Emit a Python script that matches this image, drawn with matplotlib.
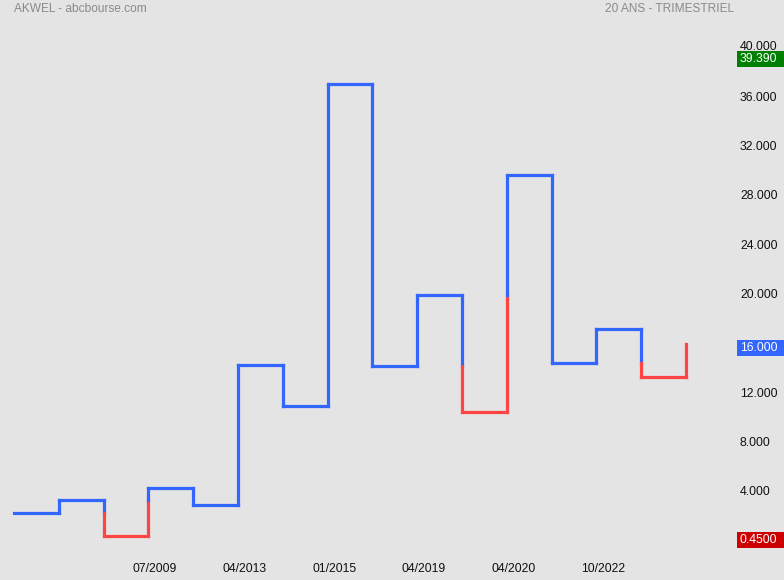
import matplotlib
matplotlib.use("Agg")
import matplotlib.pyplot as plt
from matplotlib.patches import Rectangle
from matplotlib.transforms import offset_copy, blended_transform_factory

plt.rcParams["font.family"] = ["Liberation Sans", "DejaVu Sans"]

# Kagi turning levels (quarterly closes), in order of reversal
kagi_levels = [2.35, 3.41, 0.45, 4.32, 2.97, 14.35, 11.0, 37.14,
               14.22, 19.98, 10.51, 29.71, 14.49, 17.24, 13.35, 16.0]

# Date labels shown under selected reversal lines
tick_labels = ["07/2009", "04/2013", "01/2015", "04/2019", "04/2020", "10/2022"]
tick_reversals = [3, 5, 7, 9, 11, 13]

y_ticks = [4, 8, 12, 16, 20, 24, 28, 32, 36, 40]
price_max = 39.39
price_min = 0.45
price_last = 16.0

title_left = "AKWEL - abcbourse.com"
title_right = "20 ANS - TRIMESTRIEL"

BG = "#e4e4e4"
UP = "#3366ff"
DOWN = "#ff4444"
FS = 8.8

W, H = 784, 580
fig = plt.figure(figsize=(W / 100, H / 100), dpi=100, facecolor=BG)

# plot area in pixels
ax_left, ax_right, ax_top, ax_bottom = 0, 730, 28, 548
ax = fig.add_axes([ax_left / W, (H - ax_bottom) / H,
                   (ax_right - ax_left) / W, (ax_bottom - ax_top) / H])
ax.set_facecolor(BG)
for s in ax.spines.values():
    s.set_visible(False)

px_per_step = 44.8
x0_px = 14
ax.set_xlim(-x0_px / px_per_step, (ax_right - x0_px) / px_per_step)
px_per_unit = 12.33
zero_px = 541.6
ax.set_ylim((zero_px - ax_bottom) / px_per_unit, (zero_px - ax_top) / px_per_unit)


def kagi_segments(levels):
    """Build (xs, ys, colour) pieces of a Kagi line: yang (UP) after
    breaking the previous shoulder, yin (DOWN) after breaking the
    previous waist."""
    segs = []
    state = UP
    shoulder = None
    waist = levels[0]
    segs.append(([0, 1], [levels[0], levels[0]], state))
    for i in range(1, len(levels)):
        a, b = levels[i - 1], levels[i]
        x = i
        if b > a:
            if shoulder is not None and state == DOWN and b > shoulder:
                segs.append(([x, x], [a, shoulder], DOWN))
                segs.append(([x, x], [shoulder, b], UP))
                state = UP
            else:
                segs.append(([x, x], [a, b], state))
            waist = a
        else:
            if state == UP and b < waist:
                segs.append(([x, x], [a, waist], UP))
                segs.append(([x, x], [waist, b], DOWN))
                state = DOWN
            else:
                segs.append(([x, x], [a, b], state))
            shoulder = a
        if i < len(levels) - 1:
            segs.append(([x, x + 1], [b, b], state))
    return segs


for xs, ys, c in kagi_segments(kagi_levels):
    ax.plot(xs, ys, color=c, lw=2.3, solid_capstyle="projecting",
            solid_joinstyle="miter")

ax.set_xticks([])
ax.set_yticks([])

# x tick labels
xtrans = blended_transform_factory(ax.transData, ax.transAxes)
for idx, lab in zip(tick_reversals, tick_labels):
    ax.text(idx + 0.15, -0.04, lab, transform=xtrans,
            ha="center", va="center", fontsize=FS, color="#111111")

# right axis labels
trans = blended_transform_factory(fig.transFigure, ax.transData)
label_x = 740 / W
for v in y_ticks:
    if abs(v - price_last) < 1.0:
        continue  # hidden behind the last-price box
    t = trans
    if v == 40:
        t = offset_copy(trans, fig=fig, y=1.2, units="points")
    ax.text(label_x, v, f"{v:.3f}", transform=t, ha="left", va="center",
            fontsize=FS, color="#111111", clip_on=False)


def value_box(v, text, colour):
    # box sits a few pixels under the level, running to the right edge
    centre = v - 3.5 / px_per_unit
    half = 8.0 / px_per_unit
    ax.add_patch(Rectangle((737 / W, centre - half), (W - 737) / W, 2 * half,
                           transform=trans, facecolor=colour, edgecolor="none",
                           clip_on=False, zorder=3))
    ax.text(label_x, centre, text, transform=trans, ha="left", va="center",
            fontsize=FS, color="white", clip_on=False, zorder=4)


value_box(price_max, f"{price_max:.3f}", "#008000")
value_box(price_last, f"{price_last:.3f}", UP)
value_box(price_min, f"{price_min:.4f}", "#cc0000")

fig.text(14 / W, 1 - 9 / H, title_left, ha="left", va="center",
         fontsize=8.6, color="#8a8a8a")
fig.text(734 / W, 1 - 9 / H, title_right, ha="right", va="center",
         fontsize=8.6, color="#8a8a8a")

fig.savefig("out.png", dpi=100, facecolor=BG)
